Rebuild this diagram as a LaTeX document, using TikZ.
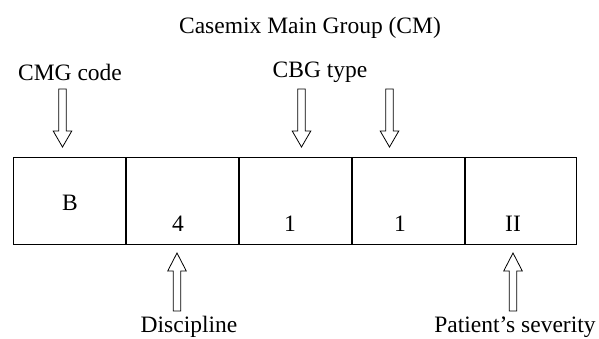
\documentclass[tikz,border=0pt]{standalone}
\usepackage{fontspec}
\setmainfont{Liberation Serif}
\begin{document}
\begin{tikzpicture}[x=1pt,y=-1pt,
  lbl/.style={inner sep=0pt, font=\fontsize{23.5}{28}\selectfont},
  cell/.style={draw, line width=0.9pt, minimum width=112pt, minimum height=87pt, inner sep=0pt, anchor=north west},
  val/.style={inner sep=0pt, font=\fontsize{23.5}{28}\selectfont},
  blk/.style={draw, line width=0.8pt, fill=white, line join=miter},
  downarrow/.pic={\draw[blk] (-3.8,0) -- (3.8,0) -- (3.8,42) -- (9.3,42) -- (0,58) -- (-9.3,42) -- (-3.8,42) -- cycle;},
  uparrow/.pic={\draw[blk] (-3.8,0) -- (3.8,0) -- (3.8,-40) -- (9.3,-40) -- (0,-58) -- (-9.3,-40) -- (-3.8,-40) -- cycle;}
]
\useasboundingbox (0,0) rectangle (599,338);
% cells
\node[cell] (c1) at (13,157) {};
\node[cell] (c2) at (c1.north east) {};
\node[cell] (c3) at (c2.north east) {};
\node[cell] (c4) at (c3.north east) {};
\node[cell, minimum width=111pt] (c5) at (c4.north east) {};
% values
\node[val] (vB) at (70,203) {B};
\node[val] (v4) at (178,224) {4};
\node[val] (v1a) at (290,224) {1};
\node[val] (v1b) at (400,224) {1};
\node[val] (vII) at (513,224) {II};
% labels
\node[lbl] (title) at (310,28) {Casemix Main Group (CM)};
\node[lbl] (cmg) at (70,72) {CMG code};
\node[lbl] (cbg) at (320,72) {CBG type};
\node[lbl] (disc) at (189,327) {Discipline};
\node[lbl] (sev) at (515,327) {Patient’s severity};
% arrows
\coordinate (a1) at (62.5,89);
\coordinate (a2) at (301.5,89);
\coordinate (a3) at (389.5,89);
\coordinate (a4) at (177,311);
\coordinate (a5) at (513,311);
\pic at (a1) {downarrow};
\pic at (a2) {downarrow};
\pic at (a3) {downarrow};
\pic at (a4) {uparrow};
\pic at (a5) {uparrow};
\end{tikzpicture}
\end{document}
